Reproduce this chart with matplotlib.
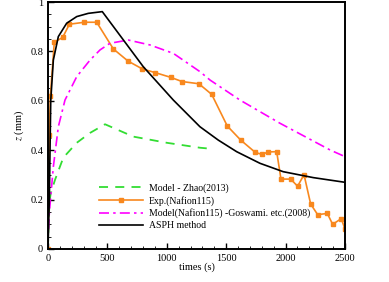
import numpy as np
import matplotlib
matplotlib.use("Agg")
from matplotlib import pyplot as plt
from matplotlib.ticker import MultipleLocator

zhao_t = [0, 5, 15, 23, 59, 129, 242, 354, 480, 718, 1000, 1279, 1390]
zhao_z = [0, 0.12, 0.2, 0.225, 0.28, 0.37, 0.43, 0.47, 0.505, 0.455, 0.43, 0.41, 0.405]

exp_t = [0, 10, 20, 53, 124, 180, 306, 410, 550, 673, 794, 903, 1033, 1128, 1270,
         1378, 1509, 1622, 1745, 1801, 1854, 1925, 1961, 2043, 2101, 2155, 2211,
         2270, 2351, 2396, 2469, 2500]
exp_z = [0, 0.46, 0.62, 0.837, 0.857, 0.91, 0.918, 0.918, 0.81, 0.761, 0.729, 0.714,
         0.695, 0.678, 0.669, 0.626, 0.498, 0.441, 0.391, 0.383, 0.393, 0.394, 0.283,
         0.283, 0.254, 0.301, 0.182, 0.139, 0.144, 0.100, 0.123, 0.08]

gos_t = [5, 11, 45, 87, 143, 242, 354, 438, 522, 676, 859, 1055, 1279, 1364, 1616,
         1953, 2374, 2500]
gos_z = [0.08, 0.146, 0.333, 0.495, 0.603, 0.698, 0.765, 0.806, 0.833, 0.846, 0.826,
         0.792, 0.718, 0.684, 0.603, 0.509, 0.401, 0.374]

asph_t = [0, 11, 23, 45, 87, 157, 242, 339, 457, 802, 1055, 1279, 1433, 1588, 1784,
          1980, 2233, 2500]
asph_z = [0, 0.2, 0.6, 0.765, 0.86, 0.914, 0.941, 0.954, 0.961, 0.738, 0.603, 0.495,
          0.441, 0.394, 0.347, 0.313, 0.289, 0.27]

y_ticks = [0, 0.2, 0.4, 0.6, 0.8, 1]
y_ticklabels = ["0", "0.2", "0.4", "0.6", "0.8", "1"]

plt.rcParams['font.family'] = ['Liberation Serif', 'DejaVu Serif']
plt.rcParams['mathtext.fontset'] = 'stix'

fig = plt.figure(figsize=(3.89, 2.82), dpi=100)
ax = fig.add_axes([48 / 389, 33 / 282, 297 / 389, 247 / 282])

ax.plot(zhao_t, zhao_z, '--', color='#33dd33', lw=1.3, dashes=(5, 4), label="Model - Zhao(2013)")
ax.plot(exp_t, exp_z, '-s', color='#f8881e', lw=1.2, ms=3, label="Exp.(Nafion115)")
ax.plot(gos_t, gos_z, '-.', color='#ff00ff', lw=1.2, dashes=(6, 2.5, 1.5, 2.5),
        label="Model(Nafion115) -Goswami. etc.(2008)")
ax.plot(asph_t, asph_z, '-', color='black', lw=1.2, label="ASPH method")

ax.set_xlim(0, 2500)
ax.set_ylim(0, 1)
ax.set_yticks(y_ticks)
ax.set_yticklabels(y_ticklabels)
ax.xaxis.set_major_locator(MultipleLocator(500))
ax.xaxis.set_minor_locator(MultipleLocator(100))
ax.yaxis.set_minor_locator(MultipleLocator(0.05))
ax.tick_params(which='both', direction='in', top=False, right=False, labelsize=7.5)
ax.tick_params(which='major', length=4, width=1)
ax.tick_params(which='minor', length=2, width=0.6)
for s in ax.spines.values():
    s.set_linewidth(1.4)

ax.set_xlabel("times (s)", fontsize=7.5, labelpad=0)
ax.set_ylabel("$z$ (mm)", fontsize=7.5, labelpad=3)

ax.legend(loc='lower left', bbox_to_anchor=(0.16, 0.06), frameon=False, fontsize=7,
          handlelength=4.5, labelspacing=0.3, handletextpad=0.6, borderaxespad=0)

plt.savefig("out.png", dpi=100)
